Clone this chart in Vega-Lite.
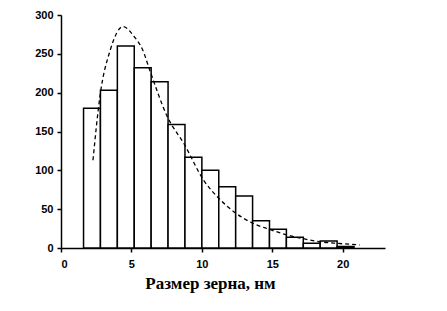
{
  "$schema": "https://vega.github.io/schema/vega-lite/v6.json",
  "autosize": "none",
  "width": 324,
  "height": 233,
  "padding": {"left": 61, "top": 15, "right": 62, "bottom": 63},
  "background": "white",
  "config": {
    "view": {"stroke": null},
    "axis": {
      "labelFont": "Liberation Sans",
      "labelFontWeight": "bold",
      "labelFontSize": 11,
      "labelColor": "black",
      "labelOverlap": false,
      "domainColor": "black",
      "domainWidth": 1.5,
      "tickColor": "black",
      "tickSize": 4,
      "tickWidth": 1.5,
      "grid": false
    }
  },
  "datasets": {
    "bars": [
      {"start": 1.6, "end": 2.8, "count": 180},
      {"start": 2.8, "end": 4.0, "count": 203},
      {"start": 4.0, "end": 5.2, "count": 260},
      {"start": 5.2, "end": 6.4, "count": 232},
      {"start": 6.4, "end": 7.6, "count": 214},
      {"start": 7.6, "end": 8.8, "count": 159},
      {"start": 8.8, "end": 10.0, "count": 117},
      {"start": 10.0, "end": 11.2, "count": 100},
      {"start": 11.2, "end": 12.4, "count": 79},
      {"start": 12.4, "end": 13.6, "count": 67},
      {"start": 13.6, "end": 14.8, "count": 35},
      {"start": 14.8, "end": 16.0, "count": 24},
      {"start": 16.0, "end": 17.2, "count": 14},
      {"start": 17.2, "end": 18.4, "count": 6},
      {"start": 18.4, "end": 19.6, "count": 9},
      {"start": 19.6, "end": 20.8, "count": 2}
    ],
    "curve": [
      {"x": 2.27, "y": 113},
      {"x": 2.77, "y": 196},
      {"x": 3.5, "y": 255},
      {"x": 4.4, "y": 285},
      {"x": 5.2, "y": 272},
      {"x": 5.8, "y": 255},
      {"x": 6.3, "y": 229},
      {"x": 7.5, "y": 171},
      {"x": 8.8, "y": 132},
      {"x": 10.1, "y": 88},
      {"x": 11.2, "y": 64},
      {"x": 12.4, "y": 45},
      {"x": 13.6, "y": 32},
      {"x": 14.8, "y": 24},
      {"x": 16.0, "y": 17},
      {"x": 17.2, "y": 12},
      {"x": 18.4, "y": 8},
      {"x": 19.6, "y": 6},
      {"x": 21.2, "y": 4}
    ]
  },
  "layer": [
    {
      "data": {"name": "bars"},
      "mark": {"type": "rect", "fill": "white", "stroke": "black", "strokeWidth": 1.5},
      "encoding": {
        "x": {
          "field": "start", "type": "quantitative",
          "scale": {"domain": [0, 23], "nice": false},
          "axis": {
            "values": [0, 5, 10, 15, 20],
            "title": "Размер зерна, нм",
            "titleFont": "Liberation Serif",
            "titleFontSize": 17,
            "titleFontWeight": "bold",
            "titleColor": "black",
            "titlePadding": 6,
            "titleX": 149,
            "labelPadding": 6
          }
        },
        "x2": {"field": "end"},
        "y": {
          "field": "count", "type": "quantitative",
          "scale": {"domain": [0, 300], "nice": false},
          "axis": {
            "values": [0, 50, 100, 150, 200, 250, 300],
            "title": null,
            "labelPadding": 4
          }
        },
        "y2": {"datum": 0}
      }
    },
    {
      "data": {"name": "curve"},
      "mark": {"type": "line", "color": "black", "strokeWidth": 1.3, "strokeDash": [4, 3], "interpolate": "monotone"},
      "encoding": {
        "x": {
          "field": "x", "type": "quantitative",
          "axis": {
            "values": [0, 5, 10, 15, 20],
            "title": "Размер зерна, нм",
            "titleFont": "Liberation Serif",
            "titleFontSize": 17,
            "titleFontWeight": "bold",
            "titleColor": "black",
            "titlePadding": 6,
            "titleX": 149,
            "labelPadding": 6
          }
        },
        "y": {
          "field": "y", "type": "quantitative",
          "axis": {
            "values": [0, 50, 100, 150, 200, 250, 300],
            "title": null,
            "labelPadding": 4
          }
        }
      }
    }
  ]
}
